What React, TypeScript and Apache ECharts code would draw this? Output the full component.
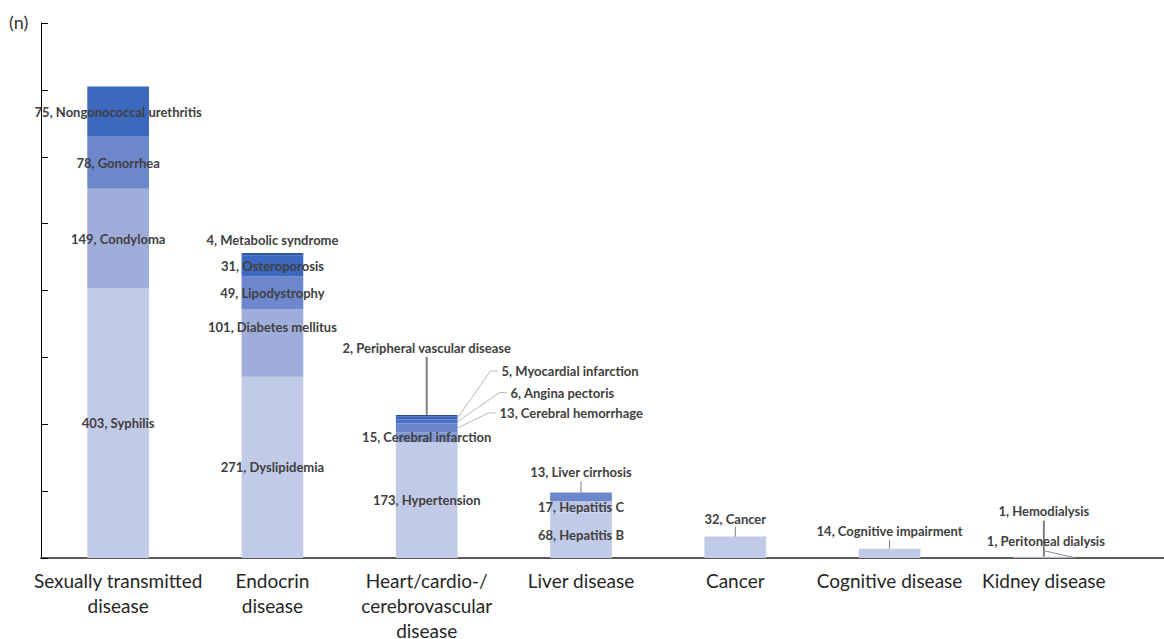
import React, { useEffect, useRef } from "react";
import * as echarts from "echarts";

const categories = [
  "Sexually transmitted\ndisease",
  "Endocrin\ndisease",
  "Heart/cardio-/\ncerebrovascular\ndisease",
  "Liver disease",
  "Cancer",
  "Cognitive disease",
  "Kidney disease",
];

// stack levels, bottom to top
const level0Values = [403, 271, 173, 68, 32, 14, 1];
const level0Names = ["Syphilis", "Dyslipidemia", "Hypertension", "Hepatitis B", "Cancer", "Cognitive impairment", "Peritoneal dialysis"];
const level1Values = [149, 101, 15, 17, null, null, 1];
const level1Names = ["Condyloma", "Diabetes mellitus", "Cerebral infarction", "Hepatitis C", "", "", "Hemodialysis"];
const level2Values = [78, 49, 13, 13, null, null, null];
const level2Names = ["Gonorrhea", "Lipodystrophy", "Cerebral hemorrhage", "Liver cirrhosis", "", "", ""];
const level3Values = [75, 31, 6, null, null, null, null];
const level3Names = ["Nongonococcal urethritis", "Osteroporosis", "Angina pectoris", "", "", "", ""];
const level4Values = [null, 4, 5, null, null, null, null];
const level4Names = ["", "Metabolic syndrome", "Myocardial infarction", "", "", "", ""];
const level5Values = [null, null, 2, null, null, null, null];
const level5Names = ["", "", "Peripheral vascular disease", "", "", "", ""];

const levelValues = [level0Values, level1Values, level2Values, level3Values, level4Values, level5Values];
const levelNames = [level0Names, level1Names, level2Names, level3Names, level4Names, level5Names];

const yTicks = [0, 100, 200, 300, 400, 500, 600, 700, 800];

// colours [level][category]
const colorMatrix = [
  ["#c1cae6", "#c1cae6", "#c1cae6", "#c1cae6", "#c1cae6", "#c1cae6", "#c8d0ea"],
  ["#9eadd9", "#9eadd9", "#8097d1", "#bcc6e4", "#9eadd9", "#9eadd9", "#c1cae6"],
  ["#6c87cb", "#6c87cb", "#6a85ca", "#6c87cb", "#6c87cb", "#6c87cb", "#6c87cb"],
  ["#3d68bf", "#3d68bf", "#4a71c4", "#3d68bf", "#3d68bf", "#3d68bf", "#3d68bf"],
  ["#3560b5", "#2f58a8", "#3b63bb", "#3560b5", "#3560b5", "#3560b5", "#3560b5"],
  ["#2c4f98", "#2c4f98", "#2c4f98", "#2c4f98", "#2c4f98", "#2c4f98", "#2c4f98"],
];

type LabelSpec = { c: number; l: number; mode: string; dx?: number; dy?: number; lead?: number; lw?: number };
const labelSpecs: LabelSpec[] = [
  { c: 0, l: 0, mode: "mid" },
  { c: 0, l: 1, mode: "mid" },
  { c: 0, l: 2, mode: "mid" },
  { c: 0, l: 3, mode: "mid" },
  { c: 1, l: 0, mode: "mid" },
  { c: 1, l: 1, mode: "mid", dy: -16 },
  { c: 1, l: 2, mode: "mid" },
  { c: 1, l: 3, mode: "mid" },
  { c: 1, l: 4, mode: "above", dy: -13 },
  { c: 2, l: 0, mode: "mid" },
  { c: 2, l: 1, mode: "mid" },
  { c: 2, l: 2, mode: "side", dx: 42, dy: -15 },
  { c: 2, l: 3, mode: "side", dx: 53, dy: -29 },
  { c: 2, l: 4, mode: "side", dx: 44, dy: -47 },
  { c: 2, l: 5, mode: "top", dy: -67, lead: 58, lw: 2 },
  { c: 3, l: 0, mode: "mid" },
  { c: 3, l: 1, mode: "mid" },
  { c: 3, l: 2, mode: "top", dy: -20, lead: 11 },
  { c: 4, l: 0, mode: "top", dy: -18, lead: 10 },
  { c: 5, l: 0, mode: "top", dy: -18, lead: 9 },
  { c: 6, l: 1, mode: "top", dy: -46, lead: 36, lw: 2 },
  { c: 6, l: 0, mode: "diag", dy: -16 },
];

const LABEL_FONT = "Lato";
const LABEL_COLOR = "#404040";

export default function App() {
  const ref = useRef<HTMLDivElement>(null);
  useEffect(() => {
    if (!ref.current) return;
    const chart = echarts.init(ref.current, undefined, { renderer: "svg" });
    const series = levelValues.map((vals, li) => ({
      type: "bar",
      stack: "total",
      barWidth: "40%",
      data: vals.map((v, ci) => ({
        value: v,
        name: levelNames[li][ci],
        itemStyle: { color: colorMatrix[li][ci] },
      })),
    }));
    chart.setOption({
      animation: false,
      grid: { left: 41, right: 43, top: 23, bottom: 81, containLabel: false, outerBoundsMode: "none" },
      xAxis: {
        type: "category",
        data: categories,
        axisLine: { lineStyle: { color: "#595959", width: 2 } },
        axisTick: { show: false },
        axisLabel: {
          interval: 0,
          fontSize: 19,
          fontFamily: "Lato",
          color: "#262626",
          lineHeight: 25,
          margin: 10,
        },
      },
      yAxis: {
        type: "value",
        min: 0,
        max: 800,
        interval: 100,
        axisLine: { show: true, lineStyle: { color: "#000", width: 1 } },
        axisTick: { show: true, inside: true, length: 7, lineStyle: { color: "#000" } },
        axisLabel: { show: false },
        splitLine: { show: false },
      },
      series,
    });

    const px = (c: number, v: number) => chart.convertToPixel({ gridIndex: 0 }, [c, v]) as number[];
    const spacing = px(1, 0)[0] - px(0, 0)[0];
    const half = spacing * 0.2;
    const els: any[] = [];
    const textEl = (text: string, x: number, y: number, align: string) => ({
      type: "text",
      x,
      y,
      style: {
        text,
        align,
        verticalAlign: "middle",
        fontFamily: LABEL_FONT,
        fontWeight: "bold",
        fontSize: 13,
        fill: LABEL_COLOR,
      },
      z: 100,
    });
    labelSpecs.forEach((s) => {
      const v = levelValues[s.l][s.c] as number;
      let base = 0;
      for (let k = 0; k < s.l; k++) base += (levelValues[k][s.c] as number) || 0;
      let total = 0;
      levelValues.forEach((lv) => (total += (lv[s.c] as number) || 0));
      const text = `${v}, ${levelNames[s.l][s.c]}`;
      const mid = px(s.c, base + v / 2);
      const top = px(s.c, total);
      const segTop = px(s.c, base + v);
      const cx = mid[0];
      if (s.mode === "mid") {
        els.push(textEl(text, cx, mid[1] + (s.dy || 0), "center"));
      } else if (s.mode === "above") {
        els.push(textEl(text, cx, segTop[1] + (s.dy || 0), "center"));
      } else if (s.mode === "top") {
        const ty = top[1] + (s.dy || 0);
        els.push(textEl(text, cx, ty, "center"));
        els.push({
          type: "line",
          shape: { x1: cx, y1: top[1] - (s.lead || 10), x2: cx, y2: top[1] },
          style: { stroke: "#7f7f7f", lineWidth: s.lw || 1 },
          z: 99,
        });
      } else if (s.mode === "side") {
        const right = cx + half;
        const lx = right + (s.dx || 0);
        const ly = mid[1] + (s.dy || 0);
        els.push(textEl(text, lx, ly, "left"));
        els.push({
          type: "polyline",
          shape: { points: [[right, mid[1]], [lx - 11, ly], [lx - 4, ly]] },
          style: { stroke: "#a6a6a6", lineWidth: 0.8, fill: null },
          z: 99,
        });
      } else if (s.mode === "diag") {
        const ty = top[1] + (s.dy || 0);
        els.push(textEl(text, cx + 2, ty, "center"));
        els.push({
          type: "line",
          shape: { x1: cx, y1: top[1] - 6, x2: cx + 32, y2: px(s.c, 0)[1] },
          style: { stroke: "#8c8c8c", lineWidth: 1 },
          z: 99,
        });
      }
    });
    const axisY = px(0, 0)[1];
    const axisRight = px(6, 0)[0] + spacing / 2;
    els.push({
      type: "line",
      shape: { x1: axisRight - 1, y1: axisY, x2: 1164, y2: axisY },
      style: { stroke: "#595959", lineWidth: 2 },
    });
    els.push({
      type: "text",
      x: 9,
      y: 22,
      style: { text: "(n)", fontFamily: "Lato", fontSize: 18, fill: "#333", verticalAlign: "middle" },
    });
    chart.setOption({ graphic: els });
    return () => chart.dispose();
  }, []);
  return (
    <div
      ref={ref}
      style={{ position: "absolute", left: 0, top: 0, width: 1164, height: 639 }}
    />
  );
}
